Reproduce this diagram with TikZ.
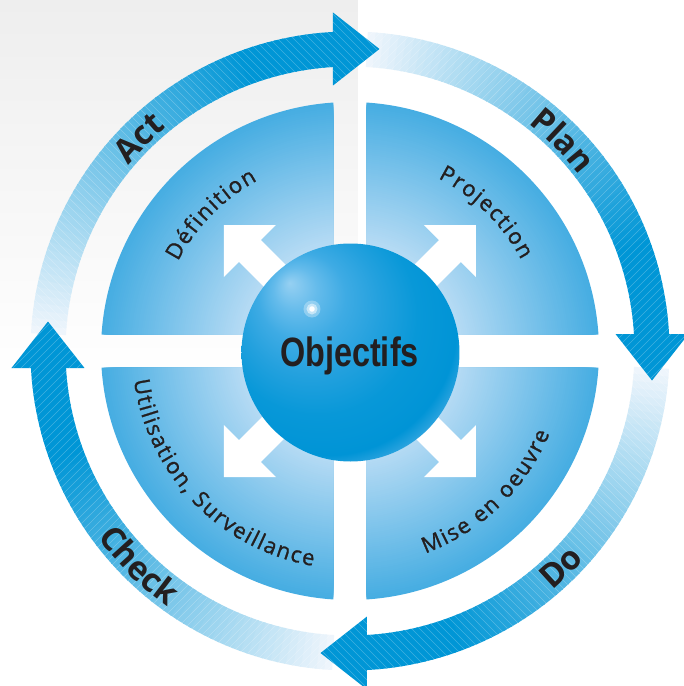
\documentclass[tikz,border=0pt]{standalone}
\usepackage{fontspec}
\usetikzlibrary{decorations.text}
\newfontfamily\ringfont{Open Sans}
\newfontfamily\quadfont[FakeBold=1.2]{Open Sans}
\newfontfamily\objfont[FakeStretch=0.79]{Liberation Sans}
\newcommand\ringlab{\ringfont\bfseries\fontsize{33}{33}\selectfont}
\newcommand\quadlab{\quadfont\fontsize{22}{22}\selectfont}
\definecolor{arrowblue}{RGB}{0,150,214}
\definecolor{paleblue}{RGB}{238,245,252}
\definecolor{quaddark}{RGB}{70,173,226}
\definecolor{quadlight}{RGB}{182,219,244}
\definecolor{bggray}{RGB}{238,238,238}
\definecolor{textdark}{RGB}{35,31,32}
\definecolor{sA}{RGB}{150,208,242}
\definecolor{sB}{RGB}{100,187,235}
\definecolor{sC}{RGB}{62,171,228}
\definecolor{sD}{RGB}{36,161,222}
\definecolor{sE}{RGB}{8,152,216}
\definecolor{sF}{RGB}{0,148,214}
\definecolor{sG}{RGB}{46,164,223}
\pgfdeclareradialshading{sphereshade}{\pgfpoint{-14bp}{16bp}}{color(0bp)=(sA); color(5bp)=(sB); color(10bp)=(sC); color(16bp)=(sD); color(23bp)=(sE); color(30bp)=(sF); color(32.5bp)=(sG); color(50bp)=(sG)}
\tikzset{
  hatch/.style={white, opacity=0.25, line width=0.5pt},
  ringtext/.style={decorate, decoration={text along path, text align=center, text color=textdark, text={#1}}},
  quadtext/.style={decorate, decoration={text effects along path, text={#1}, text align=center,
     text effects/.cd, text along path,
     characters={text=textdark, font=\quadlab},
     character widths={inner xsep=0.8pt, font=\quadlab}}},
  whitearrow/.style={fill=white},
}
\begin{document}
\begin{tikzpicture}[x=1pt,y=1pt]
\useasboundingbox (-350,-335) rectangle (334,351);
\fill[white] (-350,-335) rectangle (334,351);
\shade[top color=bggray, bottom color=white] (-350,351) rectangle (8,-30);
% ring arrow bodies
\foreach \k in {0,1,2,3}{
  \begin{scope}[rotate=-90*\k]
    \foreach \i in {0,...,59}{
      \pgfmathsetmacro\aa{176.8-\i*1.405}
      \pgfmathsetmacro\ab{\aa-1.405-0.25}
      \pgfmathsetmacro\pp{min(100,\i*100/47)}
      \fill[arrowblue!\pp!paleblue] (\aa:284.5) arc[start angle=\aa,end angle=\ab,radius=284.5] -- (\ab:319.5) arc[start angle=\ab,end angle=\aa,radius=319.5] -- cycle;
    }
    \begin{scope}
      \clip (176.8:284.5) arc[start angle=176.8,end angle=92.3,radius=284.5] -- (92.3:319.5) arc[start angle=92.3,end angle=176.8,radius=319.5] -- cycle;
      \foreach \c in {-400,-392,...,400}{
        \draw[hatch] (\c,0) ++(-420,420) -- ++(840,-840);
      }
    \end{scope}
  \end{scope}
}
% ring arrow heads
\foreach \k in {0,1,2,3}{
  \begin{scope}[rotate=-90*\k]
    \fill[arrowblue] (-17,265.5) -- (-17,338.5) -- (29.5,302) -- cycle;
    \begin{scope}
      \clip (-17,265.5) -- (-17,338.5) -- (29.5,302) -- cycle;
      \foreach \c in {240,248,...,376}{
        \draw[hatch] (\c,0) ++(-420,420) -- ++(840,-840);
      }
    \end{scope}
  \end{scope}
}
% quadrants
\begin{scope}
  \clip (-260,16.5) rectangle (-16.5,260) (16.5,16.5) rectangle (260,260)
        (16.5,-16.5) rectangle (260,-260) (-260,-16.5) rectangle (-16.5,-260);
  \foreach \i in {0,...,70}{
    \pgfmathsetmacro\rr{249-\i*2}
    \pgfmathsetmacro\pp{\i*100/70}
    \fill[quadlight!\pp!quaddark] (0,0) circle (\rr);
  }
\end{scope}
% white arrows
\foreach \k in {0,1,2,3}{
  \fill[whitearrow, rotate=90*\k] (74,126) -- (126,126) -- (126,74) -- (110.96,89.04) -- (10.96,-10.96) -- (-10.96,10.96) -- (89.04,110.96) -- cycle;
}
% sphere
\node[circle, minimum size=218pt, inner sep=0pt, shade, shading=sphereshade] (sphere) at (0.5,-1.5) {};
\fill[white, opacity=0.3] (-38,42) circle (8.5);
\fill[white, opacity=0.5] (-38,42) circle (5.5);
\fill[white] (-38,42) circle (2.8);
\node[font=\objfont\bfseries\fontsize{41}{41}\selectfont, text=textdark, anchor=base, inner sep=0pt] (obj) at (-0.5,-15.7) {Objectifs};
% ring labels
\path[ringtext={|\ringlab|Act}] (174.7:289) arc[start angle=174.7,end angle=94.7,radius=289];
\path[ringtext={|\ringlab|Plan}] (84.7:289) arc[start angle=84.7,end angle=4.7,radius=289];
\path[ringtext={|\ringlab|Do}] (-85.7:314) arc[start angle=-85.7,end angle=-5.7,radius=314];
\path[ringtext={|\ringlab|Check}] (185.5:314) arc[start angle=185.5,end angle=265.5,radius=314];
% quadrant labels
\path[quadtext={Définition}] (185.5:194) arc[start angle=185.5,end angle=85.5,radius=194];
\path[quadtext={Projection}] (95.5:194) arc[start angle=95.5,end angle=-4.5,radius=194];
\path[quadtext={Utilisation, Surveillance}] (164:218) arc[start angle=164,end angle=284,radius=218];
\path[quadtext={Mise en oeuvre}] (-96:216) arc[start angle=-96,end angle=4,radius=216];
\end{tikzpicture}
\end{document}
